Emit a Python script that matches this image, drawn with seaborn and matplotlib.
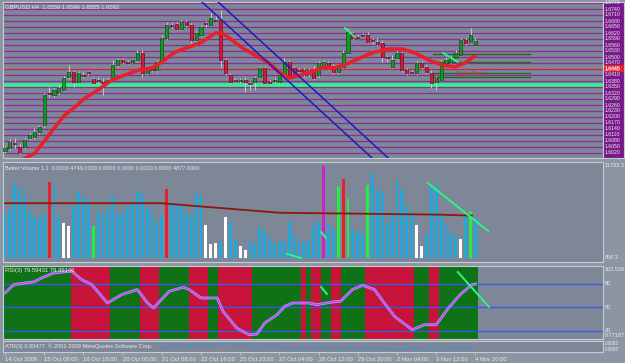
import numpy as np
import pandas as pd
import matplotlib
matplotlib.use("Agg")
import matplotlib.pyplot as plt
import seaborn as sns

# ---------------- data ----------------
title_main = "GBPUSD,H4  1.6559 1.6596 1.6555 1.6582"
title_vol = "Better Volume 1.1  0.0000 4749.0000 0.0000 0.0000 0.0000 0.0000 4877.0000"
title_rsi = "RSI(3) 79.59431 79.49146"
title_atr = "ATR(3) 0.00477"
copyright_txt = "© 2001-2009 MetaQuotes Software Corp."

opens = [1.6030,1.6045,1.6070,1.6050,1.6050,1.6095,1.6100,1.6125,1.6160,1.6320,
         1.6310,1.6325,1.6335,1.6400,1.6425,1.6375,1.6410,1.6425,1.6390,1.6385,
         1.6375,1.6380,1.6395,1.6460,1.6485,1.6475,1.6475,1.6485,1.6520,1.6420,
         1.6450,1.6435,1.6475,1.6595,1.6660,1.6665,1.6640,1.6675,1.6660,1.6585,
         1.6610,1.6670,1.6660,1.6685,1.6685,1.6485,1.6410,1.6385,1.6380,1.6385,
         1.6370,1.6375,1.6400,1.6445,1.6375,1.6380,1.6375,1.6410,1.6475,1.6445,
         1.6435,1.6435,1.6415,1.6435,1.6410,1.6450,1.6470,1.6455,1.6425,1.6450,
         1.6520,1.6620,1.6600,1.6610,1.6610,1.6585,1.6575,1.6570,1.6500,1.6450,
         1.6495,1.6520,1.6435,1.6425,1.6420,1.6470,1.6450,1.6420,1.6375,1.6385,
         1.6470,1.6475,1.6495,1.6510,1.6585,1.6575,1.6559]
highs = [1.6055,1.6090,1.6095,1.6065,1.6095,1.6120,1.6145,1.6160,1.6320,1.6350,
         1.6345,1.6360,1.6405,1.6460,1.6435,1.6430,1.6425,1.6430,1.6400,1.6400,
         1.6395,1.6395,1.6485,1.6495,1.6495,1.6485,1.6490,1.6535,1.6535,1.6455,
         1.6460,1.6485,1.6610,1.6675,1.6675,1.6675,1.6685,1.6685,1.6670,1.6630,
         1.6660,1.6680,1.6720,1.6710,1.6735,1.6495,1.6420,1.6395,1.6395,1.6400,
         1.6380,1.6405,1.6455,1.6455,1.6385,1.6395,1.6420,1.6495,1.6485,1.6455,
         1.6445,1.6445,1.6445,1.6455,1.6480,1.6485,1.6480,1.6465,1.6455,1.6535,
         1.6645,1.6630,1.6610,1.6620,1.6625,1.6595,1.6595,1.6585,1.6510,1.6510,
         1.6545,1.6530,1.6445,1.6435,1.6480,1.6480,1.6460,1.6435,1.6405,1.6485,
         1.6500,1.6505,1.6535,1.6595,1.6595,1.6645,1.6596]
lows = [1.6020,1.6035,1.6045,1.6015,1.6040,1.6085,1.6090,1.6115,1.6150,1.6300,
        1.6300,1.6315,1.6330,1.6390,1.6350,1.6365,1.6395,1.6410,1.6360,1.6365,
        1.6310,1.6365,1.6385,1.6450,1.6465,1.6465,1.6470,1.6475,1.6400,1.6410,
        1.6425,1.6425,1.6470,1.6585,1.6645,1.6635,1.6635,1.6650,1.6570,1.6575,
        1.6605,1.6650,1.6655,1.6675,1.6450,1.6410,1.6365,1.6375,1.6370,1.6325,
        1.6335,1.6335,1.6395,1.6365,1.6365,1.6370,1.6365,1.6405,1.6400,1.6400,
        1.6425,1.6400,1.6405,1.6385,1.6400,1.6445,1.6435,1.6415,1.6415,1.6445,
        1.6515,1.6585,1.6590,1.6600,1.6570,1.6565,1.6555,1.6475,1.6475,1.6445,
        1.6485,1.6425,1.6410,1.6415,1.6410,1.6440,1.6415,1.6345,1.6335,1.6380,
        1.6465,1.6470,1.6490,1.6505,1.6560,1.6570,1.6555]
closes = [1.6045,1.6075,1.6065,1.6025,1.6085,1.6110,1.6125,1.6150,1.6310,1.6315,
          1.6335,1.6345,1.6395,1.6425,1.6375,1.6420,1.6405,1.6420,1.6370,1.6380,
          1.6370,1.6385,1.6460,1.6485,1.6475,1.6470,1.6485,1.6520,1.6420,1.6445,
          1.6435,1.6475,1.6595,1.6660,1.6655,1.6640,1.6675,1.6660,1.6585,1.6620,
          1.6650,1.6665,1.6695,1.6680,1.6485,1.6420,1.6375,1.6380,1.6385,1.6375,
          1.6365,1.6395,1.6445,1.6370,1.6370,1.6385,1.6410,1.6475,1.6410,1.6410,
          1.6430,1.6410,1.6435,1.6395,1.6470,1.6475,1.6445,1.6425,1.6445,1.6520,
          1.6625,1.6595,1.6595,1.6605,1.6575,1.6580,1.6565,1.6500,1.6495,1.6485,
          1.6520,1.6435,1.6420,1.6420,1.6470,1.6450,1.6425,1.6370,1.6395,1.6475,
          1.6485,1.6495,1.6520,1.6585,1.6570,1.6610,1.6582]

# moving average on price (anchor bars / values)
ma_bar = [3.5,6.1,8.2,10.2,12.2,14.3,16.3,18.4,21.8,24.5,27.3,30.0,32.0,34.7,37.6,40.2,
          42.9,44.3,46.3,48.4,51.0,53.9,55.9,58.0,60.6,64.7,67.3,70.2,72.9,75.5,78.4,
          81.0,83.7,86.5,89.2,91.8,93.9,95.9]
ma_val = [1.5985,1.6020,1.6085,1.6150,1.6210,1.6250,1.6295,1.6325,1.6385,1.6410,1.6435,
          1.6445,1.6475,1.6525,1.6550,1.6575,1.6620,1.6620,1.6585,1.6545,1.6510,1.6470,
          1.6425,1.6395,1.6410,1.6445,1.6445,1.6470,1.6500,1.6525,1.6540,1.6540,1.6520,
          1.6485,1.6460,1.6450,1.6470,1.6505]

level_prices = [1.6770,1.6740,1.6710,1.6680,1.6650,1.6620,1.6590,1.6560,1.6530,1.6500,
                1.6470,1.6440,1.6410,1.6380,1.6350,1.6320,1.6290,1.6260,1.6230,1.6200,
                1.6170,1.6140,1.6110,1.6080,1.6050,1.6020,1.5990]
pivot_price = 1.6445
support_price = 1.6360
fib_prices = [1.6515, 1.6475, 1.6420, 1.6400]
channel_a_bar = [40.2, 74.9]
channel_b_bar = [43.5, 78.2]
channel_price = [1.6775, 1.5995]

volume = [5635,6241,9276,8872,7860,6039,5230,5028,5635,9681,9276,5230,4421,4016,6646,
          8467,7860,7253,4016,6039,5635,6241,7860,5432,5837,6444,7051,8467,8062,6444,
          6039,4623,5432,8750,7051,6848,6646,5635,5432,8265,7860,4219,1791,1872,1993,
          5230,4623,2398,1589,982,2398,1791,3814,3409,2600,1791,2196,1993,4623,2803,
          1993,1993,2196,4016,4623,11703,4219,3612,9074,10085,7456,3612,3409,3207,9276,
          10692,8669,8265,4623,5837,9883,8669,6646,5837,4219,1589,3005,9074,9276,5635,
          4219,3207,2803,2398,5432,6039,5028]
vol_kind = ["b","b","b","b","b","b","b","b","b","r","b","b","w","w","b",
            "b","b","b","g","b","b","b","b","b","b","b","b","b","b","b",
            "b","b","b","r","b","b","b","b","b","b","b","w","w","w","b",
            "w","b","b","w","w","b","b","b","b","b","b","b","b","b","b",
            "b","b","b","b","b","m","b","b","g","r","g","b","b","b","g",
            "b","b","b","b","b","b","b","b","b","w","w","b","b","b","b",
            "b","b","b","w","b","g","b"]
vma_bar = [0, 31.8, 39.0, 56.0, 72.6, 88.8, 95.3]
vma_val = [6971, 6971, 6607, 5757, 5635, 5514, 5392]

rsi_bar = [0,1.8,4.3,5.9,7.5,10,13.6,15.6,17.7,20.9,23.8,27,29.1,30.3,33.5,36.4,37.6,40,
           43.3,44.5,47.3,49.8,51.4,53,55.5,57.1,58.7,62,63.6,66.9,68.5,70.9,73,75.4,77.4,
           79.5,83.1,85.6,88,90.5,92.9,95.3,96]
rsi_val = [68.3,78.9,81.1,82.3,87.4,93.8,96.0,85.3,78.9,55.5,66.2,72.6,55.5,49.1,70.4,75.5,
           72.6,61.9,61.9,44.9,23.6,15.1,16.0,30.0,40.6,51.3,55.5,55.5,53.4,56.8,57.7,72.6,
           78.1,72.6,55.5,38.5,21.5,27.9,27.9,49.1,66.2,78.9,79.6]
rsi_zone_edges = [-0.5,13.5,21.5,27.5,31.5,37.5,41.5,43.5,50.5,60.5,61.5,62.5,64.5,66.5,
                  68.5,73.5,83.5,86.5,88.5,96.5]
rsi_zone_kind = ["g","r","g","r","g","r","g","r","g","r","g","r","g","r","g","r","g","r","g"]
rsi_levels = [80, 50, 20]

atr_bar = [31,34,37,40,43,46,48,51,55,58,61,64,68,71,74,77,81,84,87,90,93,96]
atr_val = [0.0075,0.0078,0.0080,0.0082,0.0085,0.0086,0.0082,0.0076,0.0079,0.0074,0.0073,
           0.0076,0.0072,0.0074,0.0073,0.0072,0.0070,0.0073,0.0071,0.0071,0.0073,0.0074]

date_bars = [0,8,16,24,32,40,48,56,64,72,80,88,96]
date_labels = ["14 Oct 2009","15 Oct 08:00","16 Oct 16:00","20 Oct 00:00","21 Oct 08:00",
               "22 Oct 16:00","25 Oct 23:00","27 Oct 04:00","28 Oct 12:00","29 Oct 20:00",
               "2 Nov 04:00","3 Nov 12:00","4 Nov 20:00"]

# short user-drawn trend lines (bar, value)
tl_main = [([69.4, 71.4], [1.6645, 1.6600]), ([89.4, 92.4], [1.6520, 1.6475])]
tl_vol = [([86.3, 98.6], [9540, 3434]), ([57.6, 60.4], [509, 0]), ([64.5, 65.5], [3307, 2544])]
tl_rsi = [([92.4, 98.8], [94.9, 50.4]), ([64.5, 65.7], [75.9, 66.9])]

# ---------------- style ----------------
BG = "#7d8797"
FRAME = "#8c95a2"
SPINE = "#c4ccd4"
TXT = "#ececec"
PURPLE = "#8e2a9e"
FONT = "Liberation Sans"
W, H = 625, 363
XL = (-0.41, 122.04)

plt.rcParams["font.family"] = [FONT, "DejaVu Sans"]
fig = plt.figure(figsize=(W / 100, H / 100), dpi=100)
fig.patch.set_facecolor(FRAME)


def px_ax(top, bottom, left=3, right=603):
    return fig.add_axes([left / W, 1 - bottom / H, (right - left) / W, (bottom - top) / H])


def style(ax, face=BG):
    ax.set_facecolor(face)
    ax.set_xticks([])
    ax.set_yticks([])
    ax.set_xlabel("")
    ax.set_ylabel("")
    for s in ax.spines.values():
        s.set_color(SPINE)
        s.set_linewidth(0.8)


# ---------- main price panel ----------
ax = px_ax(2, 158)
style(ax)
for lv in level_prices:
    ax.axhline(lv, color=PURPLE, lw=0.9, zorder=1)
ax.axhline(pivot_price, color="#ff6020", lw=1.0, ls=(0, (1, 1)), zorder=2)
ax.axhline(support_price, color="#2cf58c", lw=2.6, zorder=2)
for fp in fib_prices:
    ax.plot([87.3, 107.1], [fp, fp], color="#1f6a1f", lw=1.0, zorder=2)
ax.text(92.0, 1.6428, "Daily Pivot", color="#d83a20", fontsize=4.5, va="top", zorder=3)

idx = np.arange(len(opens))
o = np.array(opens); c = np.array(closes); h = np.array(highs); l = np.array(lows)
up = c >= o
ax.vlines(idx, l, h, color="#c8c8c8", lw=0.7, zorder=3)
body_lo = np.minimum(o, c)
body_h = np.maximum(np.abs(c - o), 0.00018)
ax.bar(idx[up], body_h[up], bottom=body_lo[up], width=0.62, color="#109a22",
       edgecolor="#0a3a0a", lw=0.4, zorder=4)
ax.bar(idx[~up], body_h[~up], bottom=body_lo[~up], width=0.62, color="#d8173a",
       edgecolor="#5a0010", lw=0.4, zorder=4)

sns.lineplot(x=ma_bar, y=ma_val, ax=ax, color="#e8202a", lw=2.6, zorder=5)
for xs in (channel_a_bar, channel_b_bar):
    ax.plot(xs, channel_price, color="#1c1cc0", lw=1.1, zorder=5)
for xs, ys in tl_main:
    ax.plot(xs, ys, color="#2cf58c", lw=1.4, zorder=6)
ax.set_xlim(*XL)
ax.set_ylim(1.5995, 1.6775)
style(ax)
ax.text(0.004, 0.985, title_main, transform=ax.transAxes, color=TXT, fontsize=4.2,
        va="top", ha="left", zorder=7)

# right price scale (purple labels)
axr = px_ax(2, 158, 603, 624)
axr.set_facecolor("#761a88")
axr.set_xlim(0, 1)
axr.set_ylim(1.5995, 1.6775)
for lv in level_prices[:-1]:
    axr.text(0.08, lv, f"{lv:.4f}", color="#f4e8f8", fontsize=3.7, va="center", ha="left")
axr.axhspan(pivot_price - 0.0017, pivot_price + 0.0017, color="#e0202a", zorder=2)
axr.text(0.08, pivot_price, f"{pivot_price:.4f}", color="white", fontsize=3.7,
         va="center", ha="left", zorder=3)
style(axr, "#761a88")

# ---------- volume panel ----------
axv = px_ax(162, 262)
vol_df = pd.DataFrame({"bar": idx, "volume": volume, "kind": vol_kind})
vol_pal = {"b": "#1ea8dc", "r": "#e8202a", "w": "#ffffff", "g": "#22ee44", "m": "#cc22cc"}
sns.barplot(data=vol_df, x="bar", y="volume", hue="kind", palette=vol_pal, legend=False,
            width=0.58, saturation=1, errorbar=None, ax=axv, zorder=2)
sns.lineplot(x=vma_bar, y=vma_val, ax=axv, color="#8a1a0c", lw=1.3, zorder=3)
for xs, ys in tl_vol:
    axv.plot(xs, ys, color="#2cf58c", lw=1.4, zorder=4)
axv.set_xlim(*XL)
axv.set_ylim(-509, 12212)
style(axv)
axv.text(0.004, 0.96, title_vol, transform=axv.transAxes, color=TXT, fontsize=4.0,
         va="top", ha="left")
axv.text(1.003, 11703.3, "11703.3", transform=axv.get_yaxis_transform(), color=TXT,
         fontsize=4.0, va="center", ha="left", clip_on=False)
axv.text(1.003, 0.02, "658.3", transform=axv.transAxes, color=TXT,
         fontsize=4.0, va="bottom", ha="left", clip_on=False)

# ---------- RSI panel ----------
axs = px_ax(266, 339)
zone_col = {"g": "#0f7216", "r": "#c8143a"}
for k, kind in enumerate(rsi_zone_kind):
    axs.axvspan(rsi_zone_edges[k], rsi_zone_edges[k + 1], color=zone_col[kind], lw=0, zorder=1)
for lv in rsi_levels:
    axs.axhline(lv, color="#3a58e0", lw=1.0, zorder=2)
sns.lineplot(x=rsi_bar, y=rsi_val, ax=axs, color="#7ab8f0", lw=2.0, zorder=3)
sns.lineplot(x=rsi_bar, y=rsi_val, ax=axs, color="#ff20ff", lw=0.9, zorder=4)
for xs, ys in tl_rsi:
    axs.plot(xs, ys, color="#2cf58c", lw=1.4, zorder=5)
axs.set_xlim(*XL)
axs.set_ylim(9.77187, 102.539)
style(axs)
axs.text(0.004, 0.97, title_rsi, transform=axs.transAxes, color=TXT, fontsize=4.2,
         va="top", ha="left", zorder=6)
for val, lab in [(80, "80"), (50, "50"), (20, "20")]:
    axs.text(1.003, val, lab, transform=axs.get_yaxis_transform(), color=TXT,
             fontsize=4.0, va="center", ha="left", clip_on=False)
axs.text(1.003, 0.985, "102.539", transform=axs.transAxes, color=TXT,
         fontsize=4.0, va="top", ha="left", clip_on=False)
axs.text(1.003, 0.02, "9.77187", transform=axs.transAxes, color=TXT,
         fontsize=4.0, va="bottom", ha="left", clip_on=False)

# ---------- ATR panel ----------
axa = px_ax(341, 352)
sns.lineplot(x=atr_bar, y=atr_val, ax=axa, color="#4a90d8", lw=0.8)
axa.set_xlim(*XL)
axa.set_ylim(0.0062, 0.0095)
style(axa)
axa.text(0.004, 0.5, title_atr + "  " + copyright_txt, transform=axa.transAxes,
         color=TXT, fontsize=4.1, va="center", ha="left")
axa.text(1.003, 1.0, "0.0092", transform=axa.transAxes, color=TXT,
         fontsize=3.3, va="top", ha="left", clip_on=False)
axa.text(1.003, 0.0, "0.0065", transform=axa.transAxes, color=TXT,
         fontsize=3.3, va="bottom", ha="left", clip_on=False)
axa.set_xticks(date_bars)
axa.set_xticklabels(date_labels, ha="left", fontsize=4.2, color=TXT)
axa.tick_params(axis="x", length=2, width=0.6, color=SPINE, pad=1.5)

fig.savefig("out.png", dpi=100, facecolor=fig.get_facecolor())
